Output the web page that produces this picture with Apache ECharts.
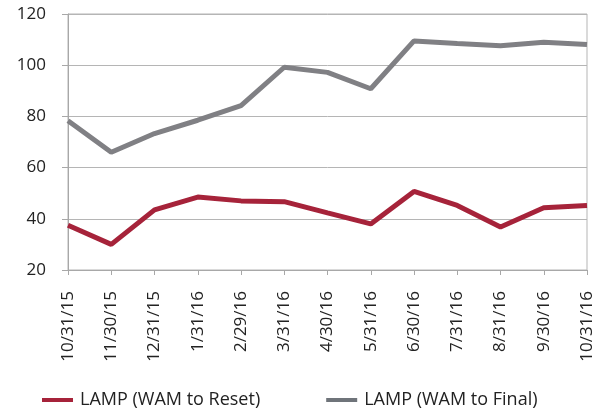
<!DOCTYPE html>
<html>
<head>
<meta charset="utf-8">
<script src="https://cdn.jsdelivr.net/npm/echarts@6/dist/echarts.min.js"></script>
<style>
  html, body { margin: 0; padding: 0; background: #fff; }
  #chart { width: 614px; height: 413px; }
</style>
</head>
<body>
<div id="chart"></div>
<script>
// Month-end dates and the two LAMP WAM series
const dates = ["10/31/15", "11/30/15", "12/31/15", "1/31/16", "2/29/16", "3/31/16",
  "4/30/16", "5/31/16", "6/30/16", "7/31/16", "8/31/16", "9/30/16", "10/31/16"];
const wamToReset = [37.5, 30, 43.5, 48.5, 47, 46.7, 42.3, 38, 50.7, 45.2, 36.8, 44.3, 45.2];
const wamToFinal = [78.3, 66, 73.3, 78.5, 84.2, 99.2, 97.2, 90.8, 109.5, 108.5, 107.6, 109, 108.1];

const RED = "#a6233a";
const GREY = "#808084";
const FONT = "'Open Sans', sans-serif";

const chart = echarts.init(document.getElementById("chart"), null, { renderer: "canvas" });
chart.setOption({
  animation: false,
  textStyle: { fontFamily: FONT, color: "#222" },
  grid: {
    left: 68, right: 27, top: 14, bottom: 143,
    show: true, borderColor: "#b5b5b5", borderWidth: 1
  },
  legend: {
    top: 391, left: 42, padding: 0,
    icon: "rect", itemWidth: 31, itemHeight: 4, itemGap: 66,
    textStyle: { fontFamily: FONT, fontSize: 18, color: "#222", padding: [0, 0, 0, 2] },
    data: [
      { name: "LAMP (WAM to Reset)", itemStyle: { color: RED } },
      { name: "LAMP (WAM to Final)", itemStyle: { color: "#6f747a" } }
    ]
  },
  xAxis: {
    type: "category",
    data: dates,
    boundaryGap: false,
    axisLine: { lineStyle: { color: "#a8a8a8" } },
    axisTick: { show: true, length: 5, alignWithLabel: true, lineStyle: { color: "#a8a8a8" } },
    axisLabel: { rotate: 90, margin: 21, fontSize: 17, color: "#222", fontFamily: FONT, interval: 0 },
    splitLine: { show: false }
  },
  yAxis: {
    type: "value",
    min: 20, max: 120, interval: 20,
    axisLine: { show: true, lineStyle: { color: "#a8a8a8" } },
    axisTick: { show: true, length: 6, lineStyle: { color: "#a8a8a8" } },
    axisLabel: { fontSize: 17, color: "#222", margin: 22, fontFamily: FONT },
    splitLine: { lineStyle: { color: "#b5b5b5" } }
  },
  series: [
    {
      name: "LAMP (WAM to Reset)", type: "line", data: wamToReset,
      symbol: "none", lineStyle: { color: RED, width: 5 }, itemStyle: { color: RED }
    },
    {
      name: "LAMP (WAM to Final)", type: "line", data: wamToFinal,
      symbol: "none", lineStyle: { color: GREY, width: 5 }, itemStyle: { color: GREY }
    }
  ]
});
</script>
</body>
</html>
